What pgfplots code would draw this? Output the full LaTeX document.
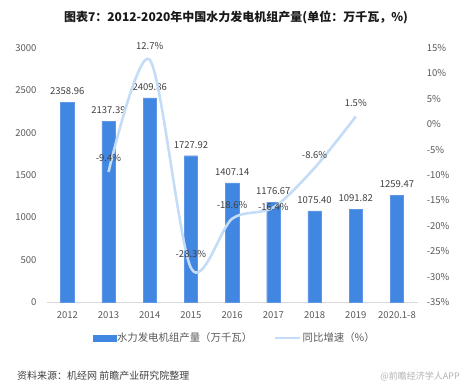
\documentclass[border=0pt]{standalone}
\usepackage{fontspec}
\setmainfont{Noto Sans CJK SC}
\usepackage{pgfplots}
\usepackage{pgfplotstable}
\pgfplotsset{compat=1.18}
\definecolor{barblue}{RGB}{65,134,224}
\definecolor{lineblue}{RGB}{197,220,247}
\definecolor{txt}{RGB}{89,89,89}
\definecolor{lbl}{RGB}{64,64,64}
\definecolor{axisgray}{RGB}{217,217,217}

\pgfplotstableread{
x y
0 2358.96
1 2137.39
2 2409.86
3 1727.92
4 1407.14
5 1176.67
6 1075.40
7 1091.82
8 1259.47
}\bardata

\pgfplotstableread{
x y dy
1 -9.4 14
2 12.7 14
3 -28.3 14
4 -18.6 14
5 -16.4 0
6 -8.6 13
7 1.5 14
}\linedata

\begin{document}
\begin{tikzpicture}
\useasboundingbox (0pt,0pt) rectangle (476pt,384pt);
% title
\node[font=\fontsize{12}{14}\selectfont\bfseries, text=black!90] at (236pt,367pt) {图表7：2012-2020年中国水力发电机组产量(单位：万千瓦，\%)};
% source
\node[anchor=west, font=\fontsize{10}{12}\selectfont, text=lbl, inner sep=0pt] at (17pt,8pt) {资料来源：机经网 前瞻产业研究院整理};
\node[anchor=east, font=\fontsize{9}{11}\selectfont, text=black!30, inner sep=0pt] at (460pt,8pt) {@前瞻经济学人APP};

\begin{axis}[
  at={(46.7pt,82pt)}, anchor=south west,
  scale only axis, width=370.9pt, height=254pt,
  xmin=-0.5, xmax=8.5, ymin=0, ymax=3000,
  /pgf/number format/assume math mode=true,
  axis x line*=bottom, axis y line*=left,
  x axis line style={draw=axisgray, line width=0.8pt},
  y axis line style={draw=none},
  tick style={draw=none},
  major tick length=0pt,
  xtick={0,...,8},
  xticklabels={2012,2013,2014,2015,2016,2017,2018,2019,2020.1-8},
  xticklabel style={font=\fontsize{9.5}{11}\selectfont, text=txt, anchor=center, inner sep=0pt, yshift=-13pt},
  ytick={0,500,1000,1500,2000,2500,3000},
  yticklabels={0,500,1000,1500,2000,2500,3000},
  yticklabel style={font=\fontsize{9.5}{11}\selectfont, text=txt, anchor=east, inner sep=0pt, xshift=-10pt},
  legend columns=2,
  legend style={at={(0.506,-0.1417)}, anchor=center, draw=none, fill=none,
    font=\fontsize{10.4}{12}\selectfont, text=txt,
    /tikz/every odd column/.append style={column sep=0pt},
    /tikz/every even column/.append style={column sep=21pt},
    nodes={inner sep=1pt}},
]
\addplot[ybar, bar width=13.3pt, fill=barblue, draw=barblue!85!white, line width=0.4pt,
  nodes near coords={\pgfmathprintnumber[fixed,fixed zerofill,precision=2,1000 sep={}]{\pgfplotspointmeta}},
  every node near coord/.append style={font=\fontsize{9.5}{11}\selectfont, text=lbl, anchor=center, inner sep=0pt, yshift=11pt},
  legend image code/.code={\fill[barblue] (0pt,-3.2pt) rectangle (22.6pt,3.2pt);}
] table[x=x,y=y] {\bardata};
\addlegendentry{水力发电机组产量（万千瓦）}
\addlegendimage{legend image code/.code={\draw[lineblue, line width=2.5pt] (0pt,0pt) -- (25pt,0pt);}}
\addlegendentry{同比增速（\%）}
\end{axis}

\begin{axis}[
  at={(46.7pt,82pt)}, anchor=south west,
  scale only axis, width=370.9pt, height=254pt,
  xmin=-0.5, xmax=8.5, ymin=-35, ymax=15,
  /pgf/number format/assume math mode=true,
  hide x axis,
  axis y line*=right,
  y axis line style={draw=none},
  tick style={draw=none},
  major tick length=0pt,
  ytick={-35,-30,-25,-20,-15,-10,-5,0,5,10,15},
  yticklabels={-35\%,-30\%,-25\%,-20\%,-15\%,-10\%,-5\%,0\%,5\%,10\%,15\%},
  yticklabel style={font=\fontsize{9.5}{11}\selectfont, text=txt, anchor=west, inner sep=0pt, xshift=9pt},
]
\addplot[lineblue, line width=2.6pt, smooth, tension=0.5, mark=none] table[x=x,y=y] {\linedata};
\addplot[draw=none, mark=none,
  visualization depends on={\thisrow{dy} \as \dy},
  nodes near coords={\pgfmathprintnumber[fixed,precision=1]{\pgfplotspointmeta}\%},
  every node near coord/.append style={font=\fontsize{9.5}{11}\selectfont, text=lbl, anchor=center, inner sep=0pt, yshift=\dy pt}
] table[x=x,y=y] {\linedata};
\end{axis}
\end{tikzpicture}
\end{document}
